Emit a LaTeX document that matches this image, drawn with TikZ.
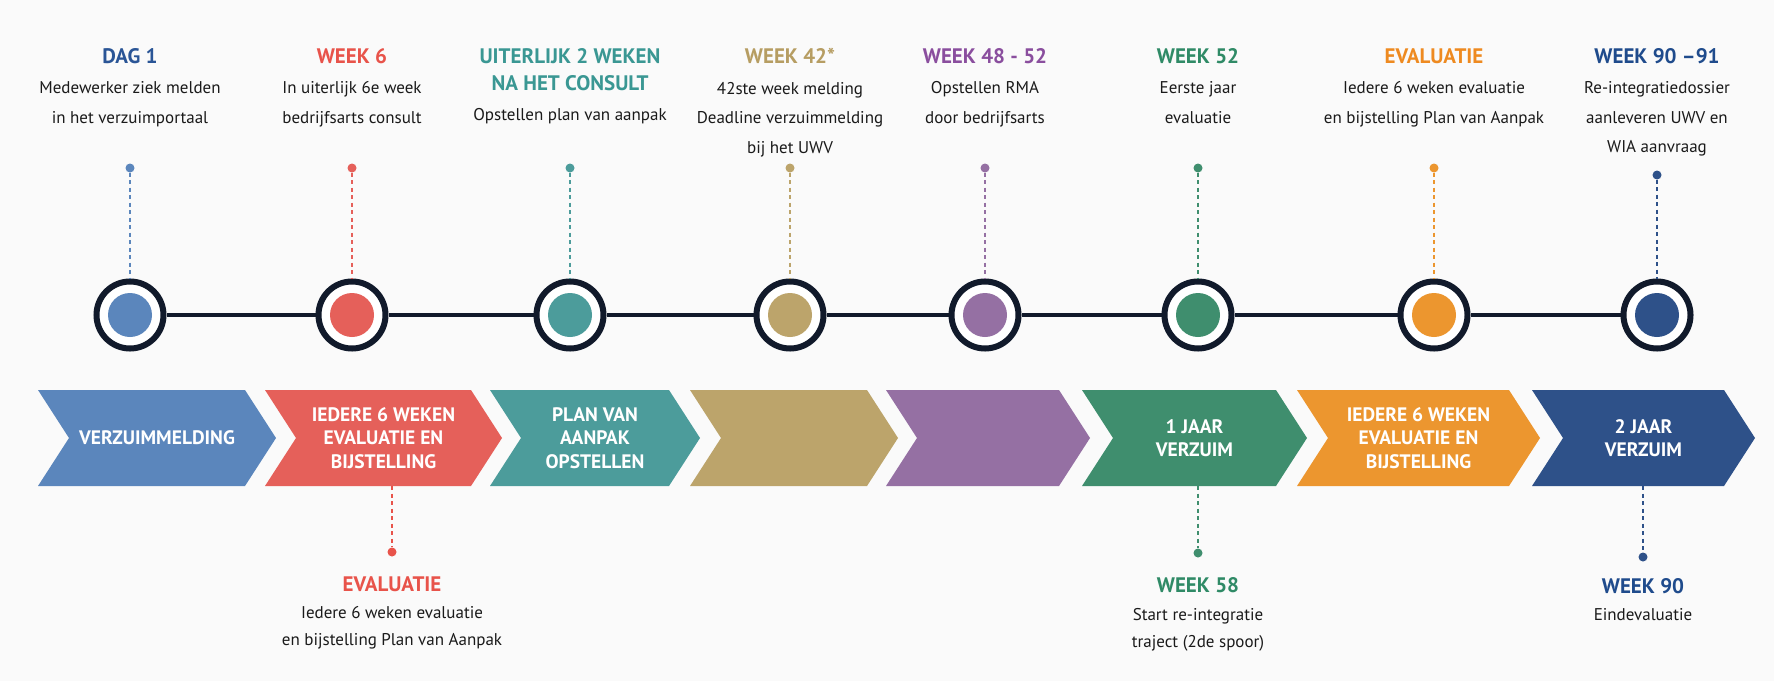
\documentclass[tikz,border=0pt]{standalone}
\usepackage{fontspec}
\setmainfont{PT Sans}
\usetikzlibrary{positioning}

\definecolor{bgc}{HTML}{FAFAFA}
\definecolor{ringc}{HTML}{111A2B}
\definecolor{txtc}{HTML}{1A1A1A}
\definecolor{blueT}{HTML}{2A5596}
\definecolor{blueF}{HTML}{5B86BC}
\definecolor{redT}{HTML}{E8534A}
\definecolor{redF}{HTML}{E5605A}
\definecolor{tealT}{HTML}{3A9793}
\definecolor{tealF}{HTML}{4C9C9B}
\definecolor{goldT}{HTML}{B69D62}
\definecolor{goldF}{HTML}{BCA46B}
\definecolor{purpT}{HTML}{8A4E9E}
\definecolor{purpF}{HTML}{9570A3}
\definecolor{greenT}{HTML}{2F8A66}
\definecolor{greenF}{HTML}{3F8E6E}
\definecolor{orT}{HTML}{EE8A20}
\definecolor{orF}{HTML}{EC962F}
\definecolor{navyT}{HTML}{1F4B8C}
\definecolor{navyF}{HTML}{2E5189}

\begin{document}
\begin{tikzpicture}[x=1pt, y=-1pt,
    ring/.style={circle, draw=ringc, line width=6pt, fill=white, minimum size=67pt, inner sep=0pt},
    disk/.style={circle, fill=#1, minimum size=44pt, inner sep=0pt},
    pin/.style={circle, fill=#1, minimum size=9pt, inner sep=0pt},
    stem/.style={draw=#1, line width=1.5pt, dash pattern=on 4pt off 3.5pt},
    spine/.style={draw=ringc, line width=4.5pt},
    kop/.style={font=\bfseries\fontsize{21}{27}\selectfont, text=#1, align=center, inner sep=0pt, anchor=north},
    tekst/.style={font=\fontsize{17}{29.5}\selectfont, text=txtc, align=center, inner sep=0pt},
    tekstonder/.style={font=\fontsize{17}{27}\selectfont, text=txtc, align=center, inner sep=0pt},
    pijltekst/.style={font=\bfseries\fontsize{19.5}{23.5}\selectfont, text=white, align=center, inner sep=0pt}]
        %achtergrond
        \fill[bgc] (0,0) rectangle (1774,681);
        \useasboundingbox (0,0) rectangle (1774,681);
        %mijlpalen op de tijdlijn
        \foreach \x/\c/\d/\ttl/\dsc/\py [count=\i] in {
            130/blueT/blueF/{DAG 1}/{Medewerker ziek melden\\in het verzuimportaal}/168,
            352/redT/redF/{WEEK 6}/{In uiterlijk 6e week\\bedrijfsarts consult}/168,
            570/tealT/tealF/{UITERLIJK 2 WEKEN\\NA HET CONSULT}/{Opstellen plan van aanpak}/168,
            790/goldT/goldF/{WEEK 42*}/{42ste week melding\\Deadline verzuimmelding\\bij het UWV}/168,
            985/purpT/purpF/{WEEK 48 - 52}/{Opstellen RMA\\door bedrijfsarts}/168,
            1198/greenT/greenF/{WEEK 52}/{Eerste jaar\\evaluatie}/168,
            1434/orT/orF/{EVALUATIE}/{Iedere 6 weken evaluatie\\en bijstelling Plan van Aanpak}/168,
            1657/navyT/navyF/{WEEK 90 --91}/{Re-integratiedossier\\aanleveren UWV en\\WIA aanvraag}/175}{
            \node[ring] (c\i) at (\x,315) {};
            \node[disk=\d] (d\i) at (c\i) {};
            \node[pin=\d] (p\i) at (\x,\py) {};
            \draw[stem=\d] (p\i) -- (c\i);
            \node[kop=\c] (t\i) at (\x,48) {\ttl};
            \node[tekst, below=18pt of t\i] (s\i) {\dsc};
        }
        %lijn tussen de mijlpalen
        \foreach \i [evaluate=\i as \j using int(\i+1)] in {1,...,7}
            \draw[spine] (c\i) -- (c\j);
        %pijlen
        \foreach \l/\t/\c/\txt [count=\i] in {
            38/276/blueF/{VERZUIMMELDING},
            265/502/redF/{IEDERE 6 WEKEN\\EVALUATIE EN\\BIJSTELLING},
            490/700/tealF/{PLAN VAN\\AANPAK\\OPSTELLEN},
            690/898/goldF/{},
            886/1090/purpF/{},
            1082/1307/greenF/{1 JAAR\\VERZUIM},
            1297/1540/orF/{IEDERE 6 WEKEN\\EVALUATIE EN\\BIJSTELLING},
            1532/1755/navyF/{2 JAAR\\VERZUIM}}{
            \fill[\c] (\l,390) -- (\t-31,390) -- (\t,438) -- (\t-31,486) -- (\l,486) -- (\l+31,438) -- cycle;
            \node[pijltekst] (a\i) at ({(\l+\t)/2},438) {\txt};
        }
        %evaluatie onder
        \coordinate (b2) at (392,486);
        \node[pin=redT] (q2) at (392,552) {};
        \draw[stem=redT] (b2) -- (q2);
        \node[kop=redT] (u2) at (392,576) {EVALUATIE};
        \node[tekstonder, below=15pt of u2] (v2) {Iedere 6 weken evaluatie\\en bijstelling Plan van Aanpak};
        %week 58
        \coordinate (b6) at (1198,486);
        \node[pin=greenF] (q6) at (1198,553) {};
        \draw[stem=greenF] (b6) -- (q6);
        \node[kop=greenT] (u6) at (1198,577) {WEEK 58};
        \node[tekstonder, below=15pt of u6] (v6) {Start re-integratie\\traject (2de spoor)};
        %week 90
        \coordinate (b8) at (1643,486);
        \node[pin=navyF] (q8) at (1643,557) {};
        \draw[stem=navyF] (b8) -- (q8);
        \node[kop=navyT] (u8) at (1643,578) {WEEK 90};
        \node[tekstonder, below=15pt of u8] (v8) {Eindevaluatie};
    \end{tikzpicture}
\end{document}
